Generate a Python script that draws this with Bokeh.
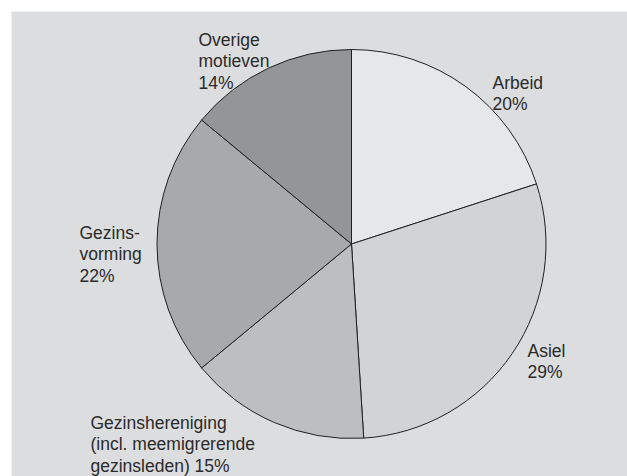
import math
from bokeh.plotting import figure
from bokeh.models import Range1d, ColumnDataSource
from bokeh.core.properties import value
from bokeh.embed import file_html
from bokeh.resources import INLINE

# ---- data ----
categories = ["Arbeid", "Asiel", "Gezinshereniging", "Gezinsvorming", "Overige motieven"]
shares = [20, 29, 15, 22, 14]
labels = ["Arbeid\n20%", "Asiel\n29%",
          "Gezinshereniging\n(incl. meemigrerende\ngezinsleden) 15%",
          "Gezins-\nvorming\n22%", "Overige\nmotieven\n14%"]
colors = ["#e6e7e8", "#d1d3d4", "#bcbec0", "#a7a9ac", "#939598"]

# ---- layout (screen pixels, y measured from top of window) ----
W, H = 627, 476
X0, Y0 = 11, 11          # top-left of grey panel in window coords
X1, Y1 = 627, 476

def sy(y):  # window y (downwards) -> data y (upwards)
    return H - y

cx, cy, r = 351, sy(243.5), 194.5
# label anchors: left x, baseline of first line (window coords)
label_pos = [(492, 82), (527, 350), (90, 422), (79, 232), (198, 39)]
line_step = 21.5

total = float(sum(shares))
starts, ends = [], []
acc = 0.0
for s in shares:
    starts.append(math.pi / 2 - 2 * math.pi * acc / total)
    acc += s
    ends.append(math.pi / 2 - 2 * math.pi * acc / total)

src = ColumnDataSource(dict(cat=categories, start=starts, end=ends, color=colors,
                            x=[cx] * len(shares), y=[cy] * len(shares)))

p = figure(width=W, height=H, output_backend="svg", toolbar_location=None,
           x_range=Range1d(X0, X1), y_range=Range1d(sy(Y1), sy(Y0)),
           min_border_left=X0, min_border_top=Y0, min_border_right=0, min_border_bottom=0)
p.background_fill_color = "#dcdddf"
p.border_fill_color = "white"
p.outline_line_color = None
p.axis.visible = False
p.grid.visible = False

p.wedge(x="x", y="y", radius=r, start_angle="start", end_angle="end",
        direction="clock", fill_color="color", line_color="#231f20",
        line_width=1, source=src)

tx, ty, tt = [], [], []
for lab, (lx, ly) in zip(labels, label_pos):
    for i, line in enumerate(lab.split("\n")):
        tx.append(lx)
        ty.append(sy(ly + i * line_step))
        tt.append(line)

p.text(x=tx, y=ty, text=tt, text_font=value("Liberation Sans"),
       text_font_size="17.5px", text_color="#2b2b2b",
       text_align="left", text_baseline="alphabetic")

open("out.html", "w").write(file_html(p, INLINE))
